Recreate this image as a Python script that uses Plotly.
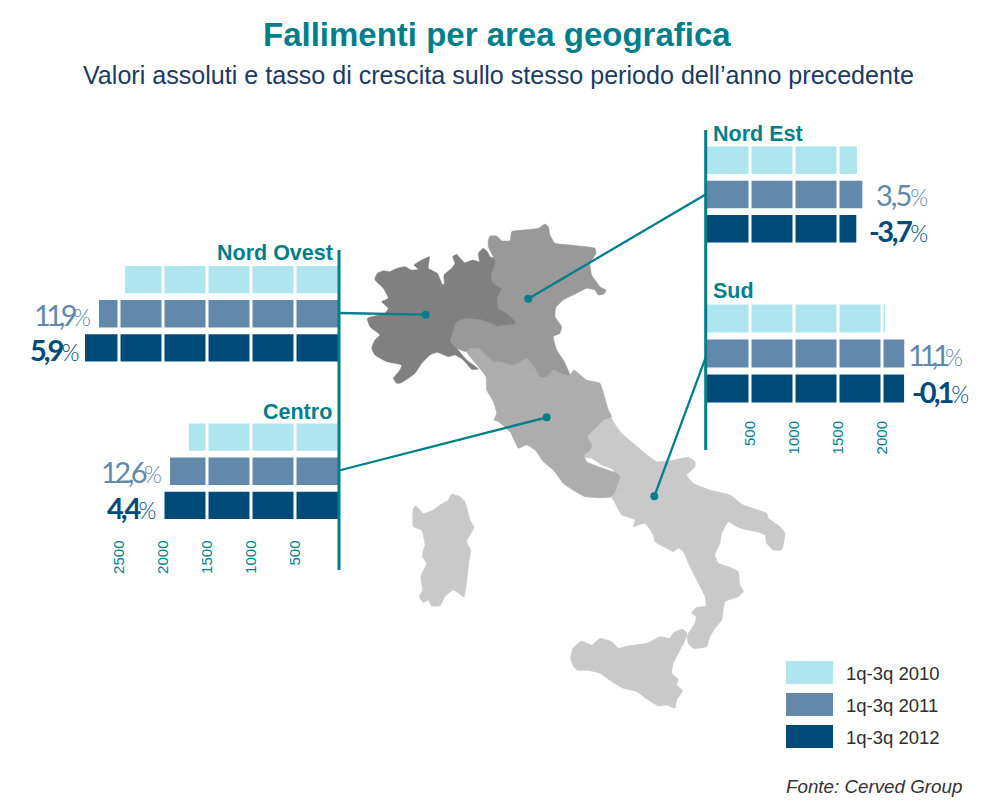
import plotly.graph_objects as go

# ---------- data ----------
YEARS = ["1q-3q 2010", "1q-3q 2011", "1q-3q 2012"]
PANELS = ["Nord Ovest", "Centro", "Nord Est", "Sud"]
VAL_2010 = [2432, 1705, 1716, 2034]
VAL_2011 = [2727, 1920, 1776, 2253]
VAL_2012 = [2886, 1989, 1708, 2251]
TICKS_LEFT = [500, 1000, 1500, 2000, 2500]
TICKS_RIGHT = [500, 1000, 1500, 2000]
GROWTH_2011 = ["11,9", "12,6", "3,5", "11,1"]
GROWTH_2012 = ["5,9", "4,4", "-3,7", "-0,1"]

# ---------- style ----------
W, H = 994, 809
TEAL = "#007F8B"
COLORS = ["#AEE5EF", "#6289AB", "#004A78"]
SANS = "Liberation Sans, Arial, sans-serif"
LATO = "Lato, sans-serif"

GEOM = {
    "Nord Ovest": ("L", 262.5, 365),
    "Centro": ("L", 420, 522.5),
    "Nord Est": ("R", 143, 246),
    "Sud": ("R", 301, 406),
}
AXIS_L, AXIS_R = 339, 706
PX_PER_UNIT = 44 / 500

# ---------- map outlines (background artwork, in crop pixel units) ----------
NW_ZONE = [(75,175),(82,160),(100,152),(120,155),(140,145),(165,140),(185,150),(205,148),(192,135),(238,110),(235,145),(262,160),(278,195),(283,190),(282,165),(305,145),(315,130),(308,110),(320,103),(335,120),(345,128),(368,120),(388,125),(385,100),(400,85),(412,95),(420,110),(432,115),(435,130),(425,160),(425,185),(445,200),(455,205),(442,235),(445,265),(470,280),(500,310),(470,315),(440,318),(425,310),(395,300),(350,295),(320,305),(310,330),(300,365),(320,385),(350,420),(385,447),(365,448),(340,420),(315,405),(295,410),(262,397),(240,405),(215,430),(195,460),(155,488),(140,490),(130,475),(150,450),(155,435),(110,425),(75,405),(65,385),(75,360),(90,345),(60,320),(52,295),(105,280),(115,265),(95,245),(115,235),(100,205),(75,180)]
NE_ZONE = [(415,60),(420,48),(440,48),(455,62),(480,62),(485,35),(520,30),(565,25),(585,12),(595,20),(600,45),(615,70),(660,75),(735,85),(738,100),(720,130),(725,165),(735,180),(750,200),(768,210),(762,222),(745,225),(735,210),(710,205),(680,220),(640,240),(618,262),(615,290),(635,320),(630,340),(610,350),(620,390),(640,420),(660,465),(640,462),(610,450),(590,470),(570,470),(555,445),(530,415),(510,425),(490,435),(450,425),(430,425),(385,385),(360,385),(348,395),(320,385),(298,365),(310,330),(320,305),(350,295),(395,300),(425,310),(440,318),(470,315),(500,310),(470,280),(445,265),(442,235),(455,205),(445,200),(425,185),(425,160),(435,130),(432,115),(415,80)]
CENTRE_ZONE = [(350,395),(360,385),(385,385),(430,425),(450,425),(490,435),(510,425),(530,415),(555,445),(570,470),(590,470),(610,450),(640,462),(660,465),(672,450),(710,480),(750,490),(775,570),(785,590),(760,600),(735,625),(712,650),(725,675),(720,690),(702,705),(710,725),(760,745),(800,760),(810,770),(805,785),(795,815),(780,832),(705,830),(665,808),(640,790),(610,750),(580,725),(555,690),(530,675),(505,685),(498,672),(480,635),(445,605),(432,600),(440,580),(430,545),(410,510),(408,470),(385,440)]
SOUTH_ZONE = [(555,35),(600,-5),(630,-12),(640,5),(665,40),(700,70),(735,100),(770,125),(820,120),(865,112),(885,125),(885,140),(860,165),(880,190),(930,210),(990,225),(1030,255),(1075,270),(1100,280),(1105,295),(1140,320),(1155,340),(1145,390),(1120,390),(1100,370),(1095,345),(1070,335),(1040,330),(1010,320),(985,305),(965,340),(960,370),(945,405),(955,430),(985,440),(1015,455),(1020,495),(1030,515),(1015,530),(975,545),(965,600),(945,625),(930,650),(920,680),(880,685),(865,670),(862,645),(885,610),(888,590),(875,578),(890,562),(918,558),(915,530),(895,490),(870,440),(850,395),(835,385),(820,395),(800,385),(765,365),(760,345),(735,310),(700,320),(705,300),(680,290),(665,285),(640,240),(630,225),(640,200),(640,150),(605,135),(575,115),(540,110),(545,90),(565,85),(550,60)]
SARDINIA = [(40,265),(48,258),(70,280),(100,270),(120,255),(145,240),(155,222),(180,230),(195,245),(205,280),(210,300),(222,322),(200,365),(212,390),(205,440),(192,530),(160,510),(135,530),(120,557),(95,558),(85,540),(70,548),(58,530),(68,510),(62,470),(80,430),(68,412),(70,390),(75,375),(65,330),(40,320)]
SICILY = [(32,115),(38,85),(65,63),(95,75),(120,55),(155,65),(175,85),(200,78),(260,70),(300,50),(330,55),(340,38),(368,28),(380,38),(378,55),(360,90),(340,130),(335,160),(355,178),(350,195),(368,212),(350,240),(345,265),(320,255),(295,258),(265,240),(230,215),(190,205),(155,185),(120,160),(90,152),(50,150),(38,135)]
CROP_A = (350, 220)
CROP_B = (400, 420)
CROP_C = (560, 620)
MAP_SHAPES = [
    (SOUTH_ZONE, CROP_B, "#C9C9C9"),
    (SARDINIA, CROP_B, "#C9C9C9"),
    (SICILY, CROP_C, "#C9C9C9"),
    (CENTRE_ZONE, CROP_A, "#ADADAD"),
    (NE_ZONE, CROP_A, "#999999"),
    (NW_ZONE, CROP_A, "#808080"),
]
LEADERS = [
    ((339, 313), (425.7, 314.7)),
    ((339, 470.5), (546.7, 417.3)),
    ((706, 194.3), (528.3, 298.7)),
    ((706, 356.7), (654.3, 496.3)),
]

fig = go.Figure()

# ---------- bar panels ----------
for i, panel in enumerate(PANELS):
    n = i + 1
    side, top, bot = GEOM[panel]
    xname, yname = ("x", "y") if n == 1 else (f"x{n}", f"y{n}")
    vals = [VAL_2010[i], VAL_2011[i], VAL_2012[i]]
    for year, v, c in zip(YEARS, vals, COLORS):
        fig.add_trace(go.Bar(x=[v], y=[year], orientation="h", name=year,
                             marker=dict(color=c, line=dict(width=0)),
                             showlegend=False, xaxis=xname, yaxis=yname))
    if side == "L":
        full = 3000
        dom = [(AXIS_L - full * PX_PER_UNIT) / W, AXIS_L / W]
        rng = [full, 0]
        ticks = TICKS_LEFT
    else:
        full = 2500
        dom = [AXIS_R / W, (AXIS_R + full * PX_PER_UNIT) / W]
        rng = [0, full]
        ticks = TICKS_RIGHT
    show = panel in ("Centro", "Sud")
    fig.update_layout({
        f"xaxis{'' if n == 1 else n}": dict(
            domain=dom, range=rng, anchor=yname, showgrid=False, zeroline=False,
            showline=False, tickmode="array", tickvals=ticks,
            showticklabels=show, tickangle=-90, ticks="outside" if show else "",
            ticklen=11 if panel == "Centro" else 8, tickcolor="rgba(0,0,0,0)",
            tickfont=dict(family=SANS, size=15, color=TEAL)),
        f"yaxis{'' if n == 1 else n}": dict(
            domain=[1 - bot / H, 1 - top / H], categoryorder="array",
            categoryarray=YEARS, range=[2.5, -0.5], anchor=xname,
            showgrid=False, zeroline=False, showline=False, showticklabels=False, ticks=""),
    })
    for t in ticks:
        fig.add_shape(type="line", xref=xname, yref=yname, x0=t, x1=t, y0=-0.5, y1=2.5,
                      line=dict(color="white", width=3), layer="above")

# ---------- overlay pixel axes for map, leaders, labels ----------
OX, OY = "x5", "y5"
fig.update_layout(
    xaxis5=dict(domain=[0, 1], range=[0, W], visible=False, anchor=OY, fixedrange=True),
    yaxis5=dict(domain=[0, 1], range=[H, 0], visible=False, anchor=OX, fixedrange=True),
)
for pts, (ox, oy), color in MAP_SHAPES:
    xs = [ox + p[0] / 3 for p in pts] + [ox + pts[0][0] / 3]
    ys = [oy + p[1] / 3 for p in pts] + [oy + pts[0][1] / 3]
    fig.add_trace(go.Scatter(x=xs, y=ys, mode="lines", fill="toself", fillcolor=color,
                             line=dict(width=0.5, color=color, shape="spline", smoothing=0.4),
                             hoverinfo="skip", showlegend=False, xaxis=OX, yaxis=OY))
for a, b in LEADERS:
    fig.add_trace(go.Scatter(x=[a[0], b[0]], y=[a[1], b[1]], mode="lines",
                             line=dict(color=TEAL, width=2.3), hoverinfo="skip",
                             showlegend=False, xaxis=OX, yaxis=OY))
    fig.add_trace(go.Scatter(x=[b[0]], y=[b[1]], mode="markers",
                             marker=dict(color=TEAL, size=8), hoverinfo="skip",
                             showlegend=False, xaxis=OX, yaxis=OY))

def ann(x, y, text, size, color, anchor="center", family=SANS, **kw):
    nudge = {"left": -2, "right": 2, "center": 0}[anchor]
    fig.add_annotation(xref=OX, yref=OY, x=x + nudge, y=y, text=text, showarrow=False,
                       xanchor=anchor, yanchor="middle",
                       font=dict(family=family, size=size, color=color, **kw))

# axes lines
fig.add_shape(type="line", xref=OX, yref=OY, x0=339, x1=339, y0=250, y1=570,
              line=dict(color=TEAL, width=3), layer="above")
fig.add_shape(type="line", xref=OX, yref=OY, x0=705.7, x1=705.7, y0=130, y1=450,
              line=dict(color=TEAL, width=3), layer="above")

# titles
ann(497, 34, "<b>Fallimenti per area geografica</b>", 33, TEAL)
ann(498, 75, "Valori assoluti e tasso di crescita sullo stesso periodo dell’anno precedente", 25.1, "#1B3A64")

# panel titles
ann(333, 253, "<b>Nord Ovest</b>", 21.5, TEAL, "right")
ann(332, 412, "<b>Centro</b>", 21.5, TEAL, "right")
ann(713, 134, "<b>Nord Est</b>", 21.5, TEAL, "left")
ann(713, 291, "<b>Sud</b>", 21.5, TEAL, "left")

# growth labels
def pct(v, spacing):
    return (f'<span style="letter-spacing:{spacing}px">' + v + '</span>'
            '<span style="font-size:23px;letter-spacing:-1px;font-weight:300">%</span>')
def lab(x, y, text, color, heavy, spacing=-3):
    ann(x, y, pct(text, spacing), 29, color, "right", LATO, weight=700 if heavy else 400)
lab(90, 314, GROWTH_2011[0], COLORS[1], False, -4.5)
lab(78, 349, GROWTH_2012[0], COLORS[2], True)
lab(161, 471, GROWTH_2011[1], COLORS[1], False, -3.5)
lab(155, 507, GROWTH_2012[1], COLORS[2], True)
lab(927, 194, GROWTH_2011[2], COLORS[1], False, -2)
lab(927, 230, GROWTH_2012[2], COLORS[2], True, -2.5)
lab(962, 354, GROWTH_2011[3], COLORS[1], False, -5)
lab(968, 391, GROWTH_2012[3], COLORS[2], True)

# legend
for k, (year, c) in enumerate(zip(YEARS, COLORS)):
    y0 = 661 + k * 32
    fig.add_shape(type="rect", xref=OX, yref=OY, x0=786, x1=833, y0=y0, y1=y0 + 23,
                  fillcolor=c, line=dict(width=0), layer="above")
    ann(846, y0 + 12, year, 18.5, "#2E2E2E", "left")
ann(786, 786, "Fonte: Cerved Group", 18.8, "#333333", "left", style="italic")

fig.update_layout(width=W, height=H, autosize=False, margin=dict(l=0, r=0, t=0, b=0),
                  paper_bgcolor="white", plot_bgcolor="rgba(0,0,0,0)", showlegend=False,
                  barmode="overlay", bargap=0.2, hovermode=False)
fig.write_html("out.html", post_script='document.body.style.margin="0";window.scrollTo(0,0);',
               config={"displayModeBar": False})
